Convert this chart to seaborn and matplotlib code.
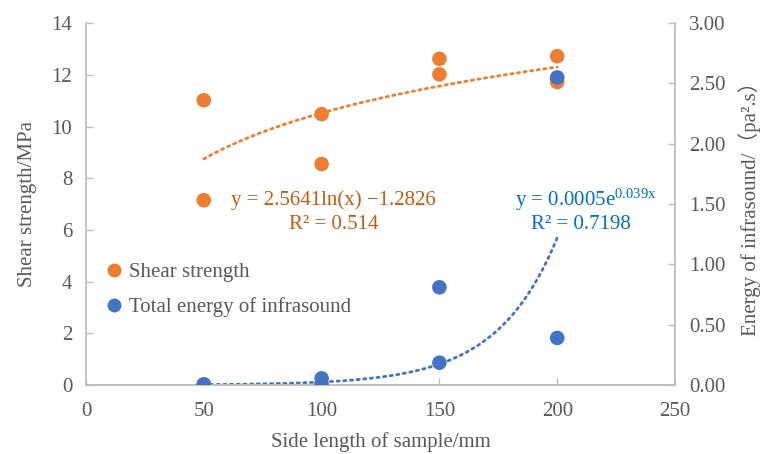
import numpy as np
import pandas as pd
import matplotlib
matplotlib.use("Agg")
import matplotlib.pyplot as plt
from matplotlib.lines import Line2D
import seaborn as sns

# Sample side length (mm) and measurements
side_length = [50, 50, 100, 100, 150, 150, 200, 200]
shear_strength = [11.02, 7.15, 10.48, 8.55, 12.62, 12.02, 12.72, 11.72]
infrasound_energy = [0.005, 0.003, 0.055, 0.008, 0.81, 0.185, 2.55, 0.39]

# Trendline coefficients
log_a, log_b = 2.5641, -1.2826
exp_a, exp_k = 0.0005, 0.039

x_ticks = [0, 50, 100, 150, 200, 250]
left_ticks = [0, 2, 4, 6, 8, 10, 12, 14]
right_ticks = [0.0, 0.5, 1.0, 1.5, 2.0, 2.5, 3.0]

orange = "#ED7D31"
blue = "#4472C4"
grid_grey = "#BFBFBF"
text_grey = "#595959"
fs = 15

sns.set_theme(style="white")
plt.rcParams["font.family"] = ["Liberation Serif", "Noto Sans CJK SC", "DejaVu Sans"]
plt.rcParams["mathtext.fontset"] = "custom"
plt.rcParams["mathtext.rm"] = "Liberation Serif"
plt.rcParams["mathtext.it"] = "Liberation Serif:italic"

df = pd.DataFrame({"x": side_length, "shear": shear_strength, "energy": infrasound_energy})
xs = np.linspace(50, 200, 200)
trend = pd.DataFrame({"x": xs,
                      "log": log_a * np.log(xs) + log_b,
                      "exp": exp_a * np.exp(exp_k * xs)})

fig = plt.figure(figsize=(7.66, 4.54), dpi=100)
ax = fig.add_axes([0.1123, 0.152, 0.7689, 0.797])
ax2 = ax.twinx()

sns.lineplot(data=trend, x="x", y="log", ax=ax, color=orange, lw=2.0,
             linestyle=(0, (0.8, 1.6)), dash_capstyle="round")
sns.scatterplot(data=df, x="x", y="shear", ax=ax, color=orange, s=110,
                edgecolor="none", zorder=3, legend=False)
sns.lineplot(data=trend, x="x", y="exp", ax=ax2, color=blue, lw=2.0,
             linestyle=(0, (0.8, 1.6)), dash_capstyle="round")
sns.scatterplot(data=df, x="x", y="energy", ax=ax2, color=blue, s=110,
                edgecolor="none", zorder=3, legend=False)

ax.set_xlim(0, 250)
ax.set_ylim(0, 14)
ax2.set_ylim(0, 3)
ax.set_xticks(x_ticks)
ax.set_yticks(left_ticks)
ax2.set_yticks(right_ticks)
ax2.set_yticklabels([f"{v:.2f}" for v in right_ticks])

for a in (ax, ax2):
    a.spines["top"].set_visible(False)
    for s in ("left", "right", "bottom"):
        a.spines[s].set_color(grid_grey)
        a.spines[s].set_linewidth(1.3)
    a.tick_params(direction="in", length=5, width=1.0, color=grid_grey,
                  labelsize=fs, labelcolor=text_grey, pad=8)
ax.tick_params(axis="y", left=True, right=False, pad=10)
ax.tick_params(axis="x", bottom=True, pad=12)
ax2.tick_params(axis="y", right=True, left=False, pad=10)
ax2.spines["left"].set_visible(False)
ax.spines["right"].set_visible(False)

ax.set_xlabel("Side length of sample/mm", fontsize=fs, color=text_grey, labelpad=8)
ax.set_ylabel("Shear strength/MPa", fontsize=fs, color=text_grey, labelpad=10)
ax2.set_ylabel("Energy of infrasound/（pa².s）", fontsize=fs, color=text_grey, labelpad=9)

ax.text(105, 7.15, f"y = {log_a}ln(x) \u2212{abs(log_b)}", fontsize=fs,
        color="#C55A11", ha="center", va="center")
ax.text(105, 6.2, "R² = 0.514", fontsize=fs, color="#C55A11", ha="center", va="center")
ax.text(212, 7.15, r"y = 0.0005e$^{\mathregular{0.039x}}$", fontsize=fs,
        color="#0070C0", ha="center", va="center")
ax.text(210, 6.2, "R² = 0.7198", fontsize=fs, color="#0070C0", ha="center", va="center")

handles = [Line2D([], [], ls="none", marker="o", ms=10, color=orange, mec="none"),
           Line2D([], [], ls="none", marker="o", ms=10, color=blue, mec="none")]
leg = ax.legend(handles, ["Shear strength", "Total energy of infrasound"],
                loc="upper left", bbox_to_anchor=(0.012, 0.362), frameon=False,
                fontsize=fs, handletextpad=0.1, handlelength=1.2,
                labelspacing=0.75, borderaxespad=0)
for t in leg.get_texts():
    t.set_color(text_grey)

fig.savefig("out.png", dpi=100)
